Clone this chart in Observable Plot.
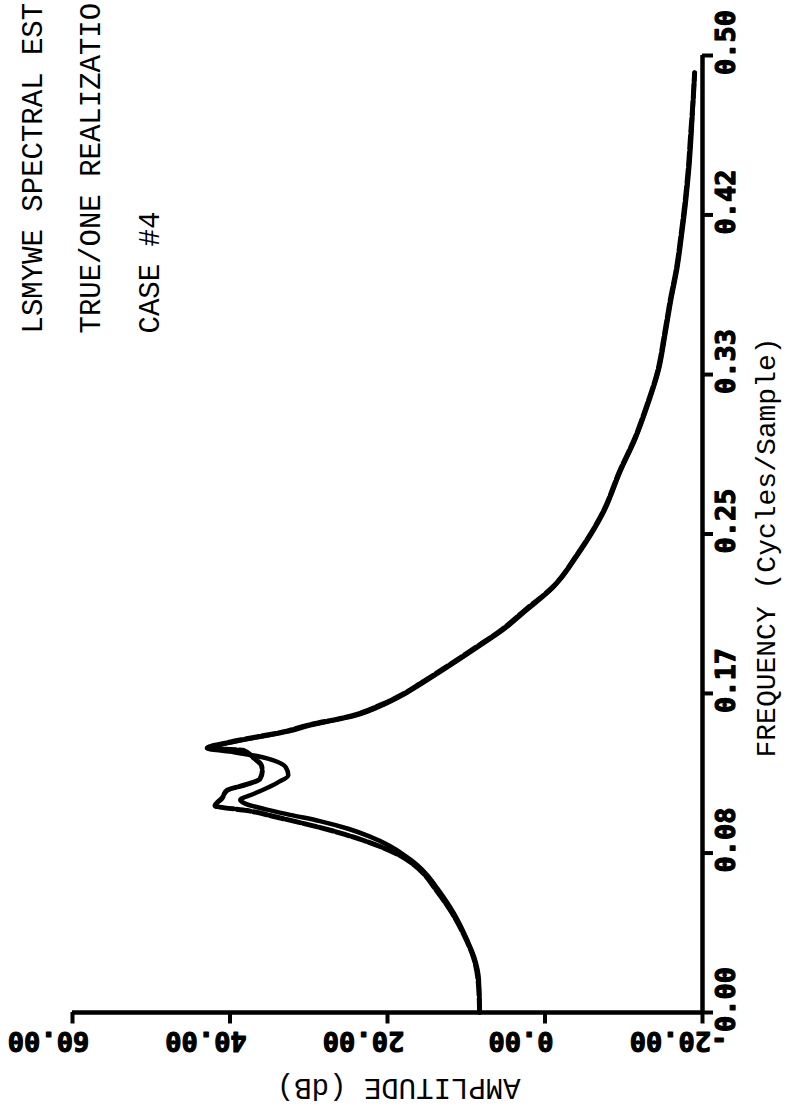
<!DOCTYPE html>
<html><head><meta charset="utf-8">
<script src="https://cdn.jsdelivr.net/npm/d3@7"></script>
<script src="https://cdn.jsdelivr.net/npm/@observablehq/plot@0.6"></script>
<style>body{margin:0;background:#fff} #chart svg{display:block}</style>
</head><body><div id="chart"></div>
<script>
// TRUE spectrum (solid)
const trueFreq = [0.000, 0.017, 0.029, 0.038, 0.052, 0.065, 0.072, 0.077, 0.082, 0.087, 0.092, 0.096, 0.100, 0.103, 0.106, 0.109, 0.111, 0.114, 0.120, 0.124, 0.128, 0.131, 0.134, 0.136, 0.138, 0.141, 0.143, 0.147, 0.150, 0.155, 0.161, 0.166, 0.172, 0.182, 0.191, 0.200, 0.210, 0.222, 0.240, 0.261, 0.283, 0.300, 0.318, 0.335, 0.355, 0.372, 0.389, 0.407, 0.424, 0.441, 0.459, 0.476, 0.491];
const trueAmp  = [8.3, 8.4, 9.0, 9.9, 11.6, 13.7, 15.0, 16.2, 17.8, 19.7, 22.3, 25.0, 28.6, 32.0, 35.3, 38.0, 38.7, 37.1, 34.0, 32.6, 32.9, 34.0, 36.6, 39.5, 42.9, 40.0, 37.6, 32.4, 29.8, 24.2, 20.4, 18.0, 15.6, 11.8, 8.5, 5.3, 2.4, -1.0, -4.3, -7.4, -9.6, -11.5, -13.1, -14.4, -15.3, -16.0, -16.8, -17.4, -17.9, -18.3, -18.6, -18.8, -19.0];
// ONE REALIZATION estimate (dashed)
const estFreq = [0.000, 0.017, 0.029, 0.038, 0.052, 0.065, 0.072, 0.077, 0.082, 0.086, 0.090, 0.094, 0.097, 0.100, 0.102, 0.1055, 0.108, 0.112, 0.116, 0.119, 0.122, 0.126, 0.129, 0.133, 0.137, 0.138, 0.141, 0.143, 0.147, 0.150, 0.155, 0.161, 0.166, 0.172, 0.182, 0.191, 0.200, 0.210, 0.222, 0.240, 0.261, 0.283, 0.300, 0.318, 0.335, 0.355, 0.372, 0.389, 0.407, 0.424, 0.441, 0.459, 0.476, 0.491];
const estAmp  = [8.3, 8.5, 9.1, 10.0, 11.8, 14.0, 15.3, 16.6, 18.4, 20.5, 23.1, 26.2, 28.9, 31.9, 34.0, 37.8, 41.9, 41.0, 40.4, 38.0, 36.2, 35.9, 36.0, 37.0, 38.3, 42.9, 40.3, 37.9, 32.8, 30.2, 24.6, 20.7, 18.2, 15.8, 12.0, 8.7, 5.5, 2.6, -0.9, -4.2, -7.3, -9.5, -11.4, -13.0, -14.3, -15.2, -15.9, -16.7, -17.3, -17.8, -18.2, -18.5, -18.8, -19.0];

const freqTicks = [0, 0.0833, 0.1667, 0.25, 0.3333, 0.4167, 0.5];
const freqTickLabels = ["0.00", "0.08", "0.17", "0.25", "0.33", "0.42", "0.50"];
const ampTicks = [60, 40, 20, 0, -20];
const ampTickLabels = ["60.00", "40.00", "20.00", "0.00", "-20.00"];
const titleLines = ["LSMYWE SPECTRAL EST", "TRUE/ONE REALIZATIO", "CASE #4"];
const xLabel = "AMPLITUDE (dB)";
const yLabel = "FREQUENCY (Cycles/Sample)";

const trueData = trueFreq.map((f, i) => ({freq: f, amp: trueAmp[i]}));
const estData = estFreq.map((f, i) => ({freq: f, amp: estAmp[i]}));
const ampTickData = ampTicks.map((v, i) => ({v, label: ampTickLabels[i]}));
const freqTickData = freqTicks.map((v, i) => ({v, label: freqTickLabels[i]}));

const typeFont = "'Liberation Mono', 'DejaVu Sans Mono', monospace";
const tickFont = "'DejaVu Sans Mono', 'Liberation Mono', monospace";

const titleMarks = titleLines.map((t, i) => Plot.text([t], {
  text: d => d, frameAnchor: "top-left", dx: [-40, 18, 77][i], dy: 278,
  rotate: -90, textAnchor: "start", lineAnchor: "middle",
  fontSize: 29, fontFamily: typeFont, fill: "black"
}));

const chart = Plot.plot({
  width: 787, height: 1111,
  marginLeft: 72, marginRight: 85, marginTop: 55, marginBottom: 99,
  x: {domain: [60, -20], axis: null},
  y: {domain: [0, 0.5], axis: null},
  style: {background: "white"},
  marks: [
    Plot.ruleY([0], {stroke: "black", strokeWidth: 4.5}),
    Plot.ruleX([-20], {stroke: "black", strokeWidth: 4.5}),
    Plot.ruleX(ampTicks, {y1: 0, y2: -0.006, stroke: "black", strokeWidth: 4}),
    Plot.ruleY(freqTicks, {x1: -20, x2: -21.4, stroke: "black", strokeWidth: 4}),
    Plot.line(estData, {x: "amp", y: "freq", stroke: "black", strokeWidth: 5, strokeDasharray: "14,3", curve: "monotone-y"}),
    Plot.line(trueData, {x: "amp", y: "freq", stroke: "black", strokeWidth: 4.5, curve: "monotone-y"}),
    Plot.text(ampTickData, {x: "v", text: "label", frameAnchor: "bottom", dx: -24, dy: 28,
      rotate: 180, textAnchor: "middle", lineAnchor: "middle",
      fontSize: 27, fontWeight: "bold", fontFamily: tickFont, fill: "black", stroke: "black", strokeWidth: 1.2}),
    Plot.text(freqTickData, {y: "v", text: "label", frameAnchor: "right", dx: 24, dy: -13,
      rotate: -90, textAnchor: "middle", lineAnchor: "middle",
      fontSize: 27, fontWeight: "bold", fontFamily: tickFont, fill: "black", stroke: "black", strokeWidth: 1.2}),
    Plot.text([xLabel], {text: d => d, frameAnchor: "bottom-left", dx: 448, dy: 76,
      rotate: 180, textAnchor: "start", lineAnchor: "middle",
      fontSize: 29, fontFamily: typeFont, fill: "black"}),
    Plot.text([yLabel], {text: d => d, frameAnchor: "bottom-right", dx: 64, dy: -255,
      rotate: -90, textAnchor: "start", lineAnchor: "middle",
      fontSize: 28, fontFamily: typeFont, fill: "black"}),
    ...titleMarks
  ]
});
document.getElementById("chart").appendChild(chart);
</script>
</body></html>
